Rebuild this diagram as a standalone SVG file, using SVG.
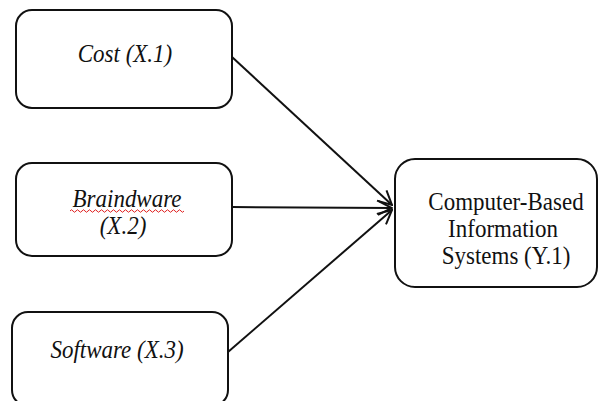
<svg xmlns="http://www.w3.org/2000/svg" width="599" height="401" viewBox="0 0 599 401">
<defs>
<style>
.box{fill:#fff;stroke:#111;stroke-width:2}
.t{font-family:'Liberation Serif','Times New Roman',Times,serif;font-size:23px;fill:#111;text-anchor:middle}
.i{font-style:italic}
.c{stroke:#111;stroke-width:2;fill:none}
</style>
<marker id="arr" viewBox="0 0 16 16" refX="15" refY="8" markerWidth="16" markerHeight="16" markerUnits="userSpaceOnUse" orient="auto">
<path d="M1,1 L15,8 L1,15" fill="none" stroke="#111" stroke-width="2"/>
</marker>
</defs>
<rect width="599" height="401" fill="#fff"/>
<g id="connectors">
<line class="c" x1="232" y1="57" x2="392" y2="205" marker-end="url(#arr)"/>
<line class="c" x1="232" y1="207" x2="392" y2="208" marker-end="url(#arr)"/>
<line class="c" x1="228" y1="352" x2="392" y2="210" marker-end="url(#arr)"/>
</g>
<g id="cost">
<rect class="box" x="16" y="10" width="216" height="98" rx="16"/>
<text class="t i" transform="translate(125,62) scale(1,1.12)">Cost (X.1)</text>
</g>
<g id="braindware">
<rect class="box" x="16" y="163" width="216" height="93" rx="16"/>
<text class="t i" transform="translate(127,207) scale(1,1.12)">Braindware</text>
<path d="M70,211 q1.5,-2.5 3,0 t3,0 t3,0 t3,0 t3,0 t3,0 t3,0 t3,0 t3,0 t3,0 t3,0 t3,0 t3,0 t3,0 t3,0 t3,0 t3,0 t3,0 t3,0 t3,0 t3,0 t3,0 t3,0 t3,0 t3,0 t3,0 t3,0 t3,0 t3,0 t3,0 t3,0 t3,0 t3,0 t3,0 t3,0 t3,0 t3,0 t3,0" fill="none" stroke="#e02020" stroke-width="1"/>
<text class="t i" transform="translate(123,234) scale(1,1.12)">(X.2)</text>
</g>
<g id="software">
<rect class="box" x="12" y="312" width="216" height="94" rx="16"/>
<text class="t i" transform="translate(117,358) scale(1,1.12)">Software (X.3)</text>
</g>
<g id="cbis">
<rect class="box" x="395" y="159" width="202" height="128" rx="20"/>
<text class="t" transform="translate(506,210) scale(1,1.12)">Computer-Based</text>
<text class="t" transform="translate(503,237) scale(1,1.12)">Information</text>
<text class="t" transform="translate(506,264) scale(1,1.12)">Systems (Y.1)</text>
</g>
</svg>
